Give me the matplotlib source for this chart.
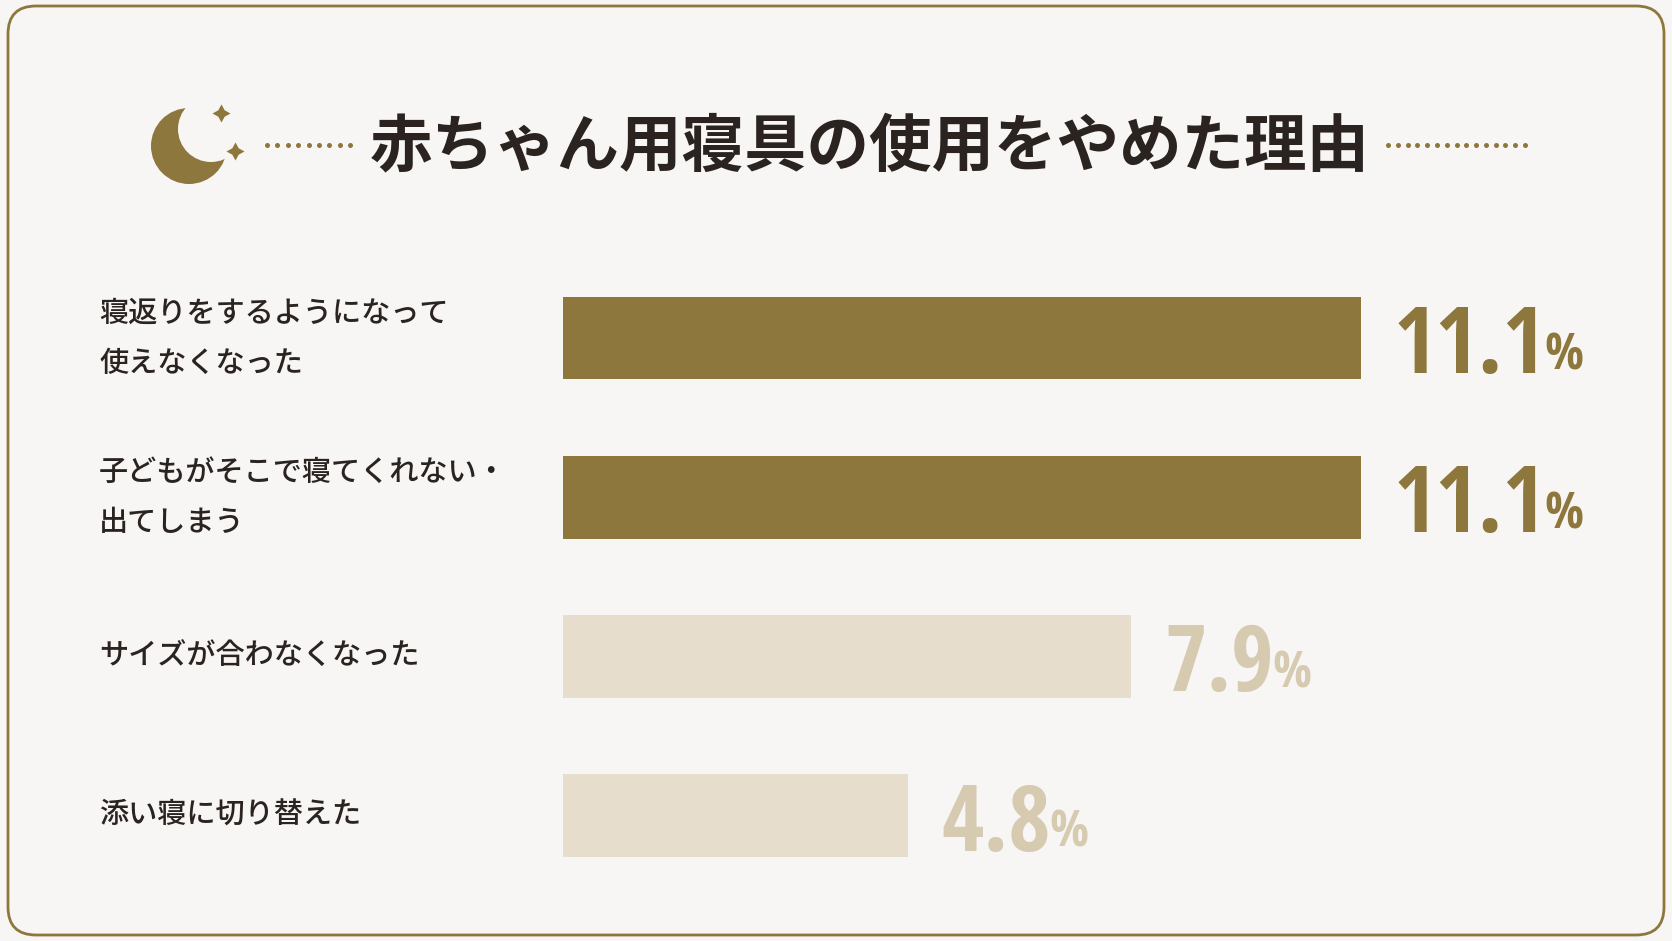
import numpy as np
import matplotlib
matplotlib.use("Agg")
import matplotlib.pyplot as plt
from matplotlib.patches import FancyBboxPatch, Circle
from matplotlib import transforms

plt.rcParams['font.family'] = ['Noto Sans CJK JP', 'DejaVu Sans']

# ---- data ----
labels = [
    "寝返りをするようになって\n使えなくなった",
    "子どもがそこで寝てくれない・\n出てしまう",
    "サイズが合わなくなった",
    "添い寝に切り替えた",
]
values = [11.1, 11.1, 7.9, 4.8]
highlight = [True, True, False, False]
title = "赤ちゃん用寝具の使用をやめた理由"

# ---- colours ----
BG = "#F7F6F4"
GOLD = "#8D773C"
LIGHT = "#E7DDCC"
LIGHT_TXT = "#D6CAB0"
INK = "#2A2320"

W, H = 1672, 941
fig = plt.figure(figsize=(W / 100, H / 100), dpi=100, facecolor=BG)

# decoration layer in pixel coords
deco = fig.add_axes([0, 0, 1, 1])
deco.set_xlim(0, W)
deco.set_ylim(H, 0)
deco.axis("off")

frame = FancyBboxPatch((8, 6), W - 16, H - 12, boxstyle="round,pad=0,rounding_size=28",
                       fc=BG, ec=GOLD, lw=2)
deco.add_patch(frame)

# moon + sparkles
deco.add_patch(Circle((189, 146), 38, fc=GOLD, ec="none"))
deco.add_patch(Circle((211, 129), 33, fc=BG, ec="none"))
deco.plot([221], [113], marker=(4, 1, 0), ms=13, color=GOLD, mew=0)
deco.plot([235], [151], marker=(4, 1, 0), ms=13, color=GOLD, mew=0)

# dotted rules on each side of the title
deco.plot(np.linspace(267, 350, 9), [145] * 9, "o", ms=3.6, color=GOLD, mew=0)
deco.plot(np.linspace(1388, 1525, 15), [145] * 15, "o", ms=3.6, color=GOLD, mew=0)

deco.text(870, 147, title, ha="center", va="center", fontsize=45,
          fontweight="bold", color=INK)

# ---- bar chart ----
px_per_unit = 71.9
x0_px, x1_px = 563, 1666
y_top, y_bot = 250, 900
step = 159.2
ax = fig.add_axes([x0_px / W, 1 - y_bot / H, (x1_px - x0_px) / W, (y_bot - y_top) / H])
ax.set_xlim(0, (x1_px - x0_px) / px_per_unit)
ax.set_ylim((y_bot - 338) / step, (y_top - 338) / step)
ax.axis("off")
ax.patch.set_alpha(0)

ypos = np.arange(len(values))
colors = [GOLD if h else LIGHT for h in highlight]
ax.barh(ypos, values, height=0.52, color=colors)

lab_tr = transforms.blended_transform_factory(fig.transFigure, ax.transData)
for y, lab in zip(ypos, labels):
    ax.text(99 / W, y, lab, transform=lab_tr, ha="left", va="center",
            fontsize=21, fontweight="medium", color=INK, linespacing=1.8)

num_family = ['Open Sans Condensed', 'Open Sans', 'DejaVu Sans']
for y, v, h in zip(ypos, values, highlight):
    c = GOLD if h else LIGHT_TXT
    t = ax.text(v + 33 / px_per_unit, y + 0.22, f"{v:.1f}", ha="left", va="baseline",
                fontsize=66, fontweight="bold", color=c, family=num_family,
                fontstretch="condensed")
    ax.annotate("%", xy=(1, 0), xycoords=t, xytext=(-1, 10), textcoords="offset points",
                ha="left", va="bottom", fontsize=37, fontweight="bold", color=c,
                family=num_family, fontstretch="condensed")

fig.savefig("out.png", dpi=100, facecolor=BG)
